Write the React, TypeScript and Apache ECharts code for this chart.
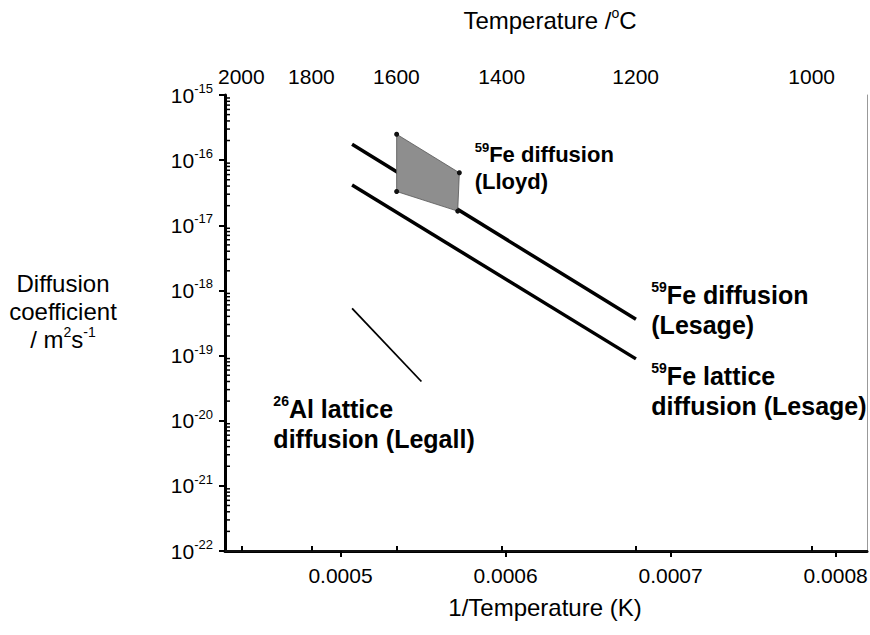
import React, { useEffect, useRef } from "react";
import * as echarts from "echarts";

// ---- data ----
const bottomTickValues = [0.0005, 0.0006, 0.0007, 0.0008];
const topTempsC = [2000, 1800, 1600, 1400, 1200, 1000];
const yMajorTickValues = [1e-22, 1e-21, 1e-20, 1e-19, 1e-18, 1e-17, 1e-16, 1e-15];
const minorMantissas = [2, 3, 4, 5, 6, 7, 8, 9];
const decadeExponents = [-22, -21, -20, -19, -18, -17, -16];

const feDiffX = [0.000507, 0.000679];
const feDiffY = [1.75e-16, 3.6e-19];
const feLatX = [0.000507, 0.000679];
const feLatY = [4.15e-17, 8.9e-20];
const alX = [0.000507, 0.000549];
const alY = [5.3e-19, 4.0e-20];
const lloydX = [0.000534, 0.000572, 0.000571, 0.000534];
const lloydY = [2.5e-16, 6.4e-17, 1.65e-17, 3.3e-17];

const annotTexts = [
  "{s|59}{b|Fe diffusion}\n{b|(Lloyd)}",
  "{s|59}{b|Fe diffusion}\n{b|(Lesage)}",
  "{s|59}{b|Fe lattice}\n{b|diffusion (Lesage)}",
  "{s|26}{b|Al lattice}\n{b|diffusion (Legall)}",
];
const annotX = [0.000581, 0.000688, 0.000688, 0.000459];
const annotY = [7.7e-17, 5.0e-19, 2.9e-20, 9.0e-21];
const annotSize = [22, 25, 25, 25];

const X_MIN = 0.00043;
const X_MAX = 0.000819;
const Y_MIN = 1e-22;
const Y_MAX = 1e-15;

const FONT = '"Liberation Sans", Arial, Helvetica, sans-serif';

export default function App() {
  const ref = useRef<HTMLDivElement>(null);

  useEffect(() => {
    if (!ref.current) return;
    const chart = echarts.init(ref.current, null, { renderer: "svg" });

    const minorTickValues: number[] = [];
    decadeExponents.forEach((e) =>
      minorMantissas.forEach((m) => minorTickValues.push(m * Math.pow(10, e)))
    );
    const topTickValues = topTempsC.map((t) => 1 / (t + 273.15));

    const annotSeries = annotTexts.map((txt, i) => ({
      type: "scatter",
      xAxisIndex: 0,
      yAxisIndex: 0,
      symbolSize: 1,
      itemStyle: { color: "rgba(0,0,0,0)", opacity: 1 },
      silent: true,
      clip: false,
      z: 10,
      data: [[annotX[i], annotY[i]]],
      label: {
        show: true,
        position: "right",
        distance: 0,
        align: "left",
        color: "#000",
        opacity: 1,
        textBorderWidth: 0,
        formatter: txt,
        rich: {
          b: {
            fontFamily: FONT,
            fontWeight: "bold",
            fontSize: annotSize[i],
            lineHeight: annotSize[i] + 5,
            color: "#000",
          },
          s: {
            fontFamily: FONT,
            fontWeight: "bold",
            fontSize: Math.round(annotSize[i] * 0.58),
            lineHeight: annotSize[i] + 5,
            verticalAlign: "top",
            color: "#000",
          },
        },
      },
      labelLayout: { hideOverlap: false },
    }));

    const option: any = {
      animation: false,
      backgroundColor: "#fff",
      grid: {
        left: 225,
        right: 3,
        top: 95,
        bottom: 84,
        containLabel: false,
        outerBoundsMode: "none",
      },
      graphic: [
        {
          type: "text",
          x: 550,
          y: 20,
          style: {
            text: "{n|Temperature /}{s|o}{n|C}",
            align: "center",
            verticalAlign: "middle",
            rich: {
              n: { fontFamily: FONT, fontSize: 24, fill: "#000", lineHeight: 28 },
              s: { fontFamily: FONT, fontSize: 14, fill: "#000", verticalAlign: "top", lineHeight: 28 },
            },
          },
        },
        {
          type: "text",
          x: 545,
          y: 607,
          style: {
            text: "1/Temperature (K)",
            font: `24px ${FONT}`,
            fill: "#000",
            align: "center",
            verticalAlign: "middle",
          },
        },
        {
          type: "text",
          x: 63,
          y: 311,
          style: {
            text: "{n|Diffusion}\n{n|coefficient}\n{n|/ m}{s|2}{n|s}{s|-1}",
            align: "center",
            verticalAlign: "middle",
            rich: {
              n: { fontFamily: FONT, fontSize: 24, fill: "#000", lineHeight: 28, align: "center" },
              s: { fontFamily: FONT, fontSize: 14, fill: "#000", lineHeight: 28, verticalAlign: "top" },
            },
          },
        },
      ],
      xAxis: [
        {
          type: "value",
          position: "bottom",
          min: X_MIN,
          max: X_MAX,
          splitLine: { show: false },
          axisLine: { lineStyle: { color: "#000", width: 3 } },
          axisTick: {
            customValues: bottomTickValues,
            length: 6,
            lineStyle: { color: "#000", width: 2 },
          },
          axisLabel: {
            customValues: bottomTickValues,
            formatter: (v: number) => v.toFixed(4),
            fontFamily: FONT,
            fontSize: 21,
            color: "#000",
            margin: 14,
          },
        },
        {
          type: "value",
          position: "top",
          min: X_MIN,
          max: X_MAX,
          splitLine: { show: false },
          axisLine: { lineStyle: { color: "#111", width: 2 } },
          axisTick: {
            customValues: topTickValues,
            length: 5,
            lineStyle: { color: "#000", width: 2 },
          },
          axisLabel: {
            customValues: topTickValues,
            formatter: (v: number) => String(Math.round((1 / v - 273.15) / 10) * 10),
            fontFamily: FONT,
            fontSize: 21,
            color: "#000",
            margin: 8,
          },
        },
      ],
      yAxis: [
        {
          type: "log",
          logBase: 10,
          min: Y_MIN,
          max: Y_MAX,
          position: "left",
          splitLine: { show: false },
          axisLine: { show: true, lineStyle: { color: "#000", width: 3 } },
          axisTick: {
            show: true,
            customValues: yMajorTickValues,
            length: 6,
            lineStyle: { color: "#000", width: 2 },
          },
          minorTick: { show: false },
          axisLabel: {
            customValues: yMajorTickValues,
            margin: 12,
            formatter: (v: number) => `{b|10}{s|${Math.round(Math.log10(v))}}`,
            rich: {
              b: { fontFamily: FONT, fontSize: 21, color: "#000", lineHeight: 26 },
              s: { fontFamily: FONT, fontSize: 13, color: "#000", lineHeight: 26, verticalAlign: "top" },
            },
          },
        },
        {
          type: "log",
          logBase: 10,
          min: Y_MIN,
          max: Y_MAX,
          position: "right",
          splitLine: { show: false },
          axisLine: { show: true, lineStyle: { color: "#999", width: 1 } },
          axisTick: { show: false },
          axisLabel: { show: false },
        },
      ],
      series: [
        {
          name: "minor ticks",
          type: "custom",
          xAxisIndex: 0,
          yAxisIndex: 0,
          silent: true,
          clip: false,
          data: minorTickValues.map((v) => [X_MIN, v]),
          renderItem: (params: any, api: any) => {
            const p = api.coord([X_MIN, api.value(1)]);
            return {
              type: "line",
              shape: { x1: p[0], y1: p[1], x2: p[0] + 5, y2: p[1] },
              style: { stroke: "#000", lineWidth: 1.5 },
            };
          },
          z: 3,
        },
        {
          name: "59Fe diffusion (Lesage)",
          type: "line",
          data: feDiffX.map((x, i) => [x, feDiffY[i]]),
          symbol: "none",
          lineStyle: { color: "#000", width: 3.5 },
          z: 2,
        },
        {
          name: "59Fe lattice diffusion (Lesage)",
          type: "line",
          data: feLatX.map((x, i) => [x, feLatY[i]]),
          symbol: "none",
          lineStyle: { color: "#000", width: 3.5 },
          z: 2,
        },
        {
          name: "26Al lattice diffusion (Legall)",
          type: "line",
          data: alX.map((x, i) => [x, alY[i]]),
          symbol: "none",
          lineStyle: { color: "#000", width: 1.8 },
          z: 2,
        },
        {
          name: "59Fe diffusion (Lloyd)",
          type: "custom",
          silent: true,
          data: lloydX.map((x, i) => [x, lloydY[i]]),
          renderItem: (params: any, api: any) => {
            if (params.dataIndex !== 0) return null;
            const pts = lloydX.map((x, i) => api.coord([x, lloydY[i]]));
            return {
              type: "polygon",
              shape: { points: pts },
              style: { fill: "#8e8e8e", stroke: "#555", lineWidth: 0.8 },
            };
          },
          z: 5,
        },
        {
          name: "Lloyd corners",
          type: "scatter",
          data: lloydX.map((x, i) => [x, lloydY[i]]),
          symbol: "circle",
          symbolSize: 5,
          itemStyle: { color: "#111", opacity: 1 },
          silent: true,
          z: 6,
        },
        ...annotSeries,
      ],
    };

    chart.setOption(option);
    return () => chart.dispose();
  }, []);

  return (
    <div
      ref={ref}
      style={{ position: "fixed", left: 0, top: 0, width: 870, height: 635, background: "#fff" }}
    />
  );
}
